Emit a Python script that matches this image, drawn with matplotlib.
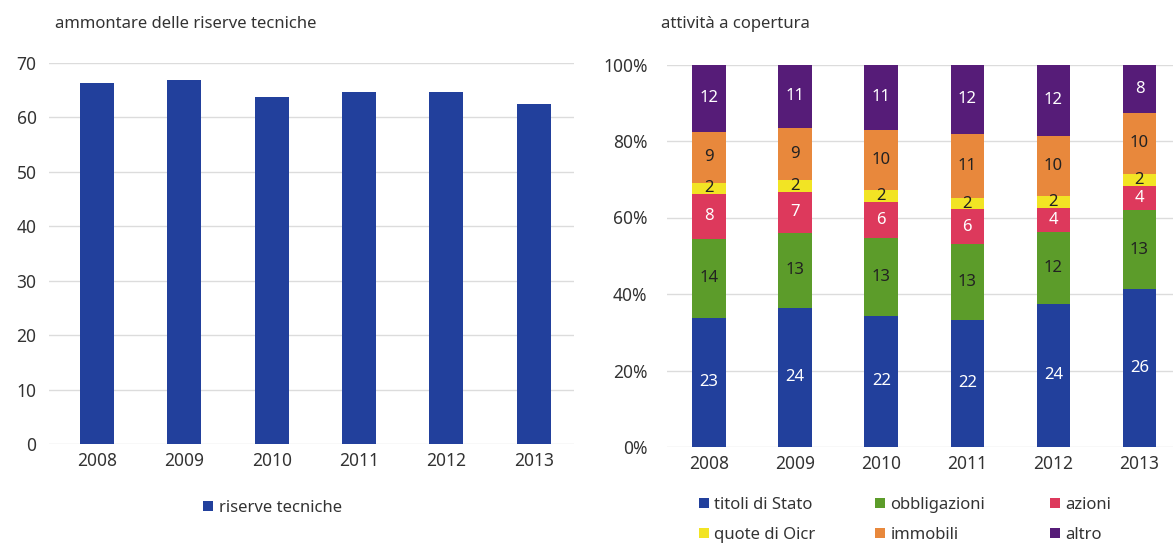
import numpy as np
import matplotlib
matplotlib.use("Agg")
import matplotlib.pyplot as plt
from matplotlib.ticker import FuncFormatter

plt.rcParams['font.family'] = ['Noto Sans', 'DejaVu Sans']

# data
years = ['2008', '2009', '2010', '2011', '2012', '2013']
riserve = [66.3, 66.8, 63.7, 64.6, 64.7, 62.5]

categorie = ['titoli di Stato', 'obbligazioni', 'azioni', 'quote di Oicr', 'immobili', 'altro']
titoli = [23, 24, 22, 22, 24, 26]
obbligazioni = [14, 13, 13, 13, 12, 13]
azioni = [8, 7, 6, 6, 4, 4]
quote = [2, 2, 2, 2, 2, 2]
immobili = [9, 9, 10, 11, 10, 10]
altro = [12, 11, 11, 12, 12, 8]

colori = ['#22409c', '#5c9c2a', '#dd395c', '#f2e424', '#e8883c', '#561c78']
col_testo = ['white', '#222222', 'white', '#222222', '#222222', 'white']

blu = '#22409c'
grid_col = '#dcdcdc'
tick_col = '#333333'
W, H = 1173, 545

fig = plt.figure(figsize=(11.73, 5.45), dpi=100)

# ---- left chart: ammontare delle riserve tecniche
ax1 = fig.add_axes([49 / W, 1 - 444 / H, (574 - 49) / W, (444 - 62.7) / H])
x = np.arange(len(years))
b1 = ax1.bar(x, riserve, width=0.39, color=blu, zorder=3, label='riserve tecniche')
ax1.set_ylim(0, 70)
ax1.set_xlim(-0.55, 5.46)
ax1.set_yticks(range(0, 71, 10))
ax1.set_xticks(x)
ax1.set_xticklabels(years)
ax1.grid(axis='y', color=grid_col, lw=1, zorder=0)
for s in ax1.spines.values():
    s.set_visible(False)
ax1.tick_params(length=0, labelsize=12.5, colors=tick_col, pad=9)
ax1.tick_params(axis='x', pad=6)
ax1.legend(handles=[b1], loc='center left', bbox_to_anchor=((188 - 49) / (574 - 49), -0.167),
           frameon=False, fontsize=12, handlelength=0.6, handleheight=0.6,
           handletextpad=0.35, labelcolor=tick_col)
fig.text(55 / W, 1 - 24 / H, 'ammontare delle riserve tecniche', fontsize=12,
         color=tick_col, va='center', ha='left')

# ---- right chart: attività a copertura
serie = [titoli, obbligazioni, azioni, quote, immobili, altro]
tot = np.sum(np.array(serie), axis=0)
ax2 = fig.add_axes([667 / W, 1 - 447 / H, (W - 667) / W, (447 - 64.5) / H])
base = np.zeros(len(years))
handles = []
for vals, nome, c, tc in zip(serie, categorie, colori, col_testo):
    quota = np.array(vals) / tot * 100
    h = ax2.bar(x, quota, bottom=base, width=0.39, color=c, zorder=3, label=nome)
    handles.append(h)
    for xi, b, q, v in zip(x, base, quota, vals):
        ax2.text(xi, b + q / 2, str(v), ha='center', va='center', fontsize=12, color=tc, zorder=4)
    base += quota
ax2.set_ylim(0, 100)
ax2.set_xlim(-0.49, 5.39)
ax2.set_yticks(range(0, 101, 20))
ax2.yaxis.set_major_formatter(FuncFormatter(lambda v, p: f'{v:.0f}%'))
ax2.set_xticks(x)
ax2.set_xticklabels(years)
ax2.grid(axis='y', color=grid_col, lw=1, zorder=0)
for s in ax2.spines.values():
    s.set_visible(False)
ax2.tick_params(length=0, labelsize=12.5, colors=tick_col, pad=14)
ax2.tick_params(axis='x', pad=6)

# legend: three columns placed one by one
col_x = [692, 868, 1043]
ax_w = W - 667
for k, cx in enumerate(col_x):
    leg = ax2.legend(handles=[handles[k], handles[k + 3]], loc='upper left',
                     bbox_to_anchor=((cx - 667) / ax_w, -0.113), frameon=False, fontsize=12,
                     handlelength=0.6, handleheight=0.6, handletextpad=0.35,
                     labelspacing=0.85, borderaxespad=0, labelcolor=tick_col)
    if k < 2:
        ax2.add_artist(leg)
fig.text(661 / W, 1 - 24 / H, 'attività a copertura', fontsize=12,
         color=tick_col, va='center', ha='left')

fig.savefig('out.png', dpi=100, facecolor='white')
